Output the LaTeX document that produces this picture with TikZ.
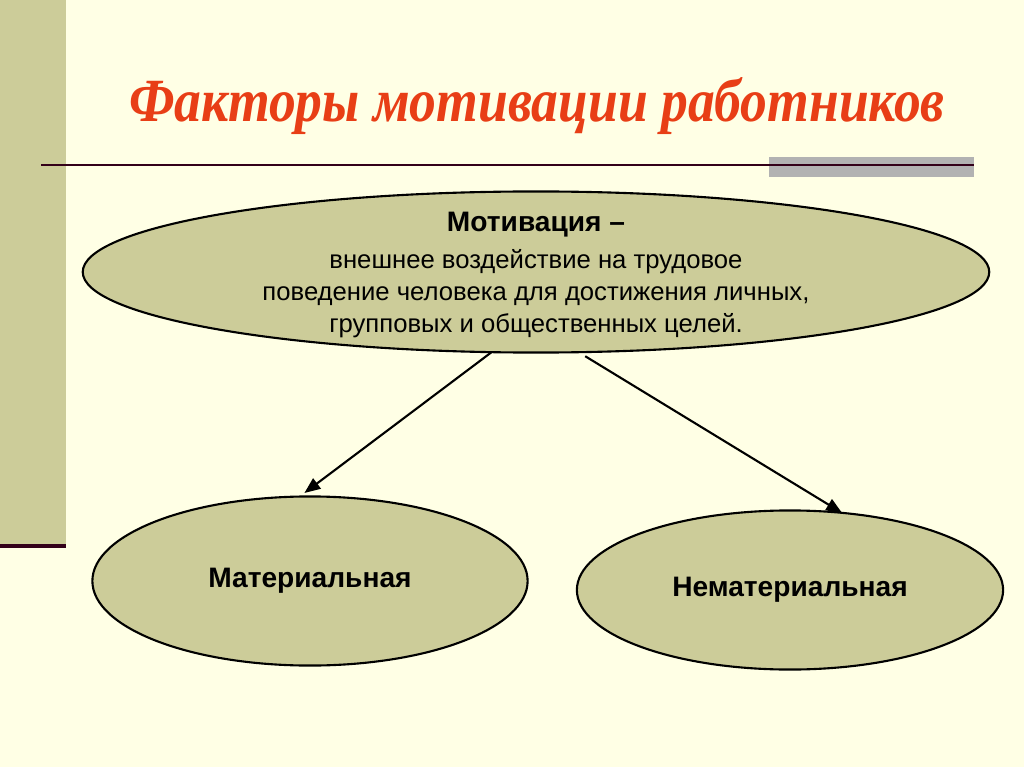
\documentclass[tikz,border=0pt]{standalone}
\usepackage{fontspec}
\setmainfont{Liberation Sans}
\newfontfamily\titlefont{Liberation Serif}
\usetikzlibrary{shapes.geometric,arrows.meta}
\definecolor{slidebg}{RGB}{255,255,229}
\definecolor{khaki}{RGB}{204,204,153}
\definecolor{maroon}{RGB}{51,0,25}
\definecolor{titlered}{RGB}{232,62,22}
\definecolor{bargray}{RGB}{178,178,178}
\tikzset{
  oval/.style={ellipse, draw=black, fill=khaki, line width=0.6pt, inner sep=0pt, outer sep=0pt},
  arrowline/.style={-{Triangle[length=4.5pt,width=3.6pt]}, line width=0.6pt}
}
\begin{document}
\begin{tikzpicture}[x=0.01cm,y=-0.01cm]
            % slide background and decoration
            \fill[slidebg] (0,0) rectangle (1024,767);
            \useasboundingbox (0,0) rectangle (1024,767);
            \fill[khaki] (0,0) rectangle (66,545);
            \draw[maroon,line width=1.1pt] (0,546) -- (66,546);
            \fill[bargray] (769,157) rectangle (974,177);
            \draw[maroon,line width=0.7pt] (41,165) -- (974,165);

            \node[titlered, inner sep=0pt] (title) at (537,106) {\resizebox*{8.15cm}{0.57cm}{\titlefont\bfseries\itshape\fontsize{20}{24}\selectfont Факторы мотивации работников}};

            \node[oval, minimum width=9.06cm, minimum height=1.61cm] (mot) at (536,272) {};
            \node[align=center, font=\fontsize{7.3}{9.1}\selectfont] (def) at (536,275) {{\bfseries\fontsize{8}{9.1}\selectfont Мотивация --}\\[1.2pt]
внешнее воздействие на трудовое\\поведение человека для достижения личных,\\групповых и общественных целей.};

            \node[oval, minimum width=4.35cm, minimum height=1.69cm] (mat) at (310,581) {};
            \node[font=\bfseries\fontsize{8}{9.6}\selectfont] at (mat) {Материальная};
            \node[oval, minimum width=4.26cm, minimum height=1.59cm] (nemat) at (790,590) {};
            \node[font=\bfseries\fontsize{8}{9.6}\selectfont] at (nemat) {Нематериальная};

            \draw[arrowline, shorten >=1.7pt] (mot.241.6) -- (mat.97.4);
            \draw[arrowline, shorten <=2.2pt] (mot.298.9) -- (nemat.56.3);
\end{tikzpicture}
\end{document}
